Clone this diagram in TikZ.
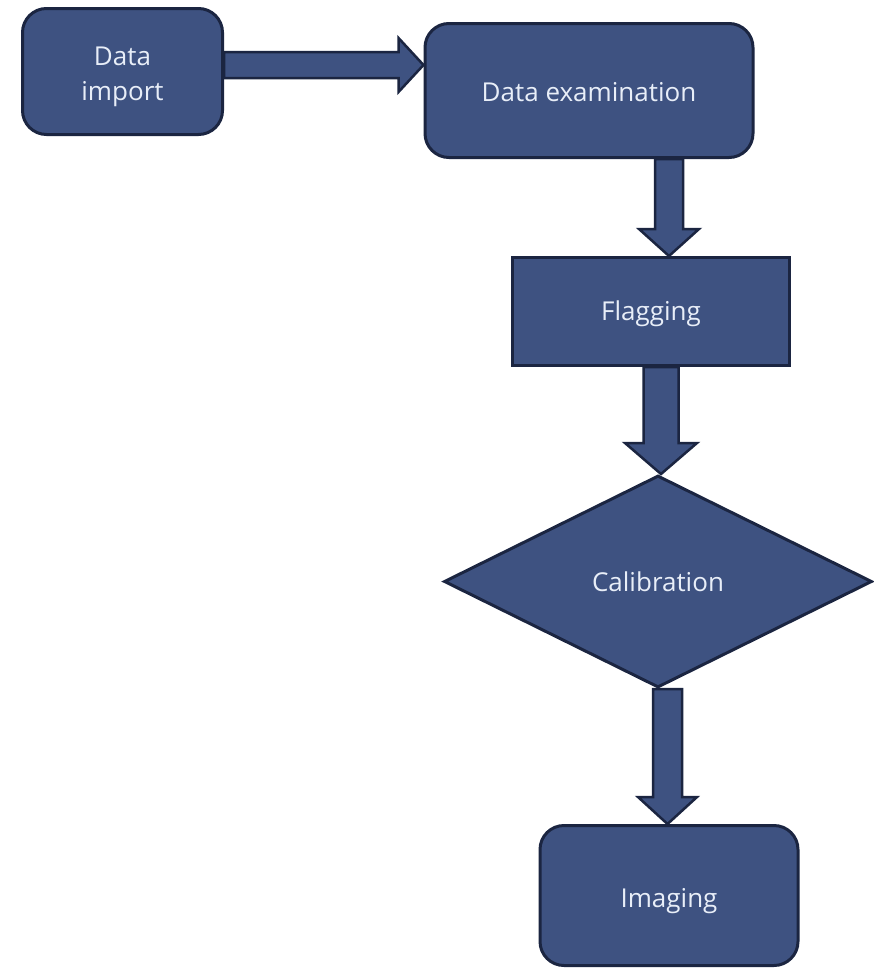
\documentclass[tikz,border=0pt]{standalone}
\usepackage{fontspec}
\setmainfont{Open Sans}
\usetikzlibrary{shapes.geometric,calc}
\definecolor{boxfill}{HTML}{3E5281}
\definecolor{boxline}{HTML}{1B2541}
\definecolor{boxtext}{HTML}{E8EEF8}
\newcommand\vblock[5]{%
  \draw[barrow] ($(#1)+(-#3,0)$) -- ($(#2)+(-#3,-#5)$) -- ($(#2)+(-#4,-#5)$) -- (#2)
    -- ($(#2)+(#4,-#5)$) -- ($(#2)+(#3,-#5)$) -- ($(#1)+(#3,0)$) -- cycle;}
\newcommand\hblock[5]{%
  \draw[barrow] ($(#1)+(0,-#3)$) -- ($(#2)+(-#5,-#3)$) -- ($(#2)+(-#5,-#4)$) -- (#2)
    -- ($(#2)+(-#5,#4)$) -- ($(#2)+(-#5,#3)$) -- ($(#1)+(0,#3)$) -- cycle;}
\newcommand\lowstrut[1]{\rule{0pt}{#1}}
\begin{document}
\begin{tikzpicture}[x=1pt,y=-1pt,
  every node/.style={font=\fontsize{26}{35}\selectfont, text=boxtext},
  stepbox/.style={draw=boxline, fill=boxfill, line width=3pt, inner sep=0pt, align=center},
  roundbox/.style={stepbox, rounded corners=24pt},
  decision/.style={stepbox, diamond},
  barrow/.style={draw=boxline, fill=boxfill, line width=2.5pt, line join=miter}]
\useasboundingbox[fill=white] (0,0) rectangle (874,969);
\node[roundbox, minimum width=200pt, minimum height=126pt] (imp) at (122.5,71.5) {\lowstrut{30pt}Data\\import};
\node[roundbox, minimum width=328pt, minimum height=134pt] (exam) at (589,90.5) {\lowstrut{23pt}Data examination};
\node[stepbox, minimum width=277pt, minimum height=108pt] (flag) at (651,311.5) {\lowstrut{25pt}Flagging};
\node[decision, minimum width=428pt, minimum height=212pt, aspect=2.02] (cal) at (658,581.5) {Calibration};
\node[roundbox, minimum width=258pt, minimum height=140pt] (img) at (669,895.5) {\lowstrut{31pt}Imaging};
\coordinate (ya) at (0,65);
\coordinate (xb) at (669,0);
\coordinate (xc) at (661,0);
\coordinate (xd) at (667.5,0);
\hblock{imp.east |- ya}{exam.west |- ya}{13}{27}{25}
\vblock{exam.south -| xb}{flag.north -| xb}{14}{30}{27}
\vblock{flag.south -| xc}{cal.north -| xc}{17.5}{36}{31}
\vblock{cal.south -| xd}{img.north -| xd}{14.5}{29.5}{27}
\end{tikzpicture}
\end{document}
